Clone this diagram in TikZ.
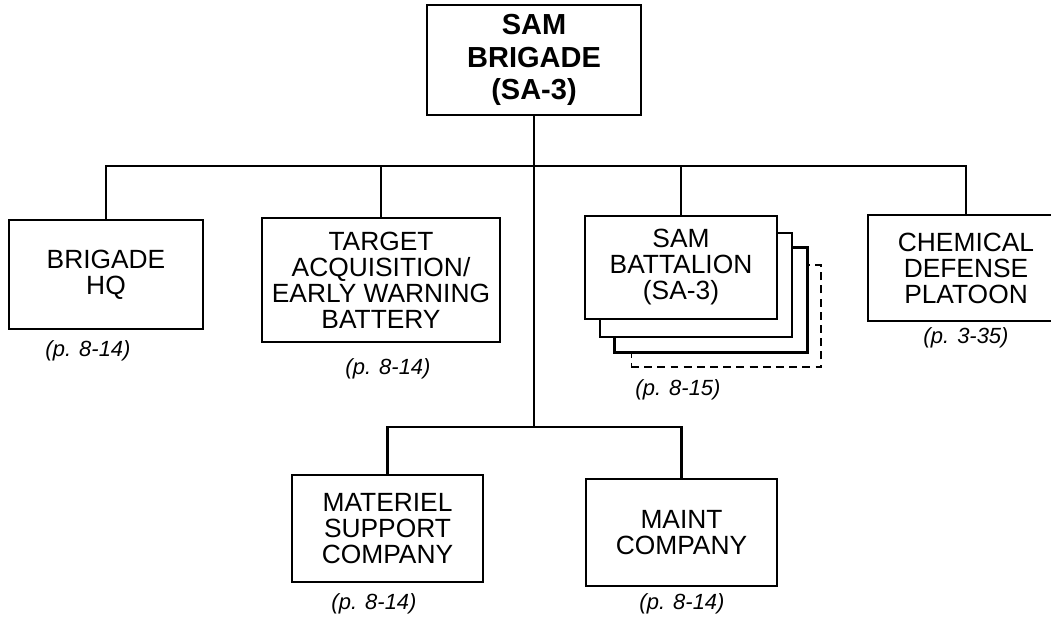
\documentclass[tikz,border=0pt]{standalone}
\usepackage{fontspec}
\setmainfont{Liberation Sans}
\usetikzlibrary{positioning}

\begin{document}
\begin{tikzpicture}[
    x=0.02cm, y=-0.02cm, line width=1.2pt,
    box/.style={rectangle, draw, fill=white, align=center, inner sep=0pt, font=\fontsize{15}{14.8}\selectfont},
    ref/.style={font=\fontsize{12.5}{13}\selectfont\itshape}
]
    \useasboundingbox (0,0) rectangle (1051,617);

    \node[box, minimum width=4.28cm, minimum height=2.2cm, font=\fontsize{16.5}{18.5}\selectfont\bfseries] (brigade) at (534,60) {SAM\\BRIGADE\\(SA-3)};

    \coordinate (bus) at (534,166);
    \coordinate (bus2) at (534,427);

    \node[box, minimum width=3.88cm, minimum height=2.18cm] (hq) at (106,274.5) {BRIGADE\\HQ};
    \node[box, minimum width=4.76cm, minimum height=2.48cm] (taew) at (381,280) {TARGET\\ACQUISITION/\\EARLY WARNING\\BATTERY};

    \node[box, fill=none, dash pattern=on 4.5pt off 3pt, line width=0.6pt, minimum width=3.8cm, minimum height=2.04cm] (bnx) at (726,316) {};
    \node[box, minimum width=3.86cm, minimum height=2.1cm] (bn3) at (711,300) {};
    \node[box, minimum width=3.84cm, minimum height=2.08cm] (bn2) at (696,285) {};
    \node[box, minimum width=3.84cm, minimum height=2.06cm] (bn) at (681,267.5) {SAM\\BATTALION\\(SA-3)};

    \node[box, minimum width=3.92cm, minimum height=2.12cm] (chem) at (966,268) {CHEMICAL\\DEFENSE\\PLATOON};

    \node[box, minimum width=3.82cm, minimum height=2.14cm] (msc) at (387.5,528.5) {MATERIEL\\SUPPORT\\COMPANY};
    \node[box, minimum width=3.82cm, minimum height=2.14cm] (maint) at (681.5,532.5) {MAINT\\COMPANY};

    \node[ref] (hqref) at (88,351) {(p. 8-14)};
    \node[ref] (taewref) at (388,369) {(p. 8-14)};
    \node[ref] (bnref) at (678,390) {(p. 8-15)};
    \node[ref] (chemref) at (966,338) {(p. 3-35)};
    \node[ref] (mscref) at (374,604) {(p. 8-14)};
    \node[ref] (maintref) at (682,604) {(p. 8-14)};

    \draw (brigade.south) -- (bus2);
    \draw (hq.north) |- (bus);
    \draw (taew.north) |- (bus);
    \draw (bn.north) |- (bus);
    \draw (chem.north) |- (bus);
    \draw (msc.north) |- (bus2);
    \draw (maint.north) |- (bus2);
\end{tikzpicture}
\end{document}
